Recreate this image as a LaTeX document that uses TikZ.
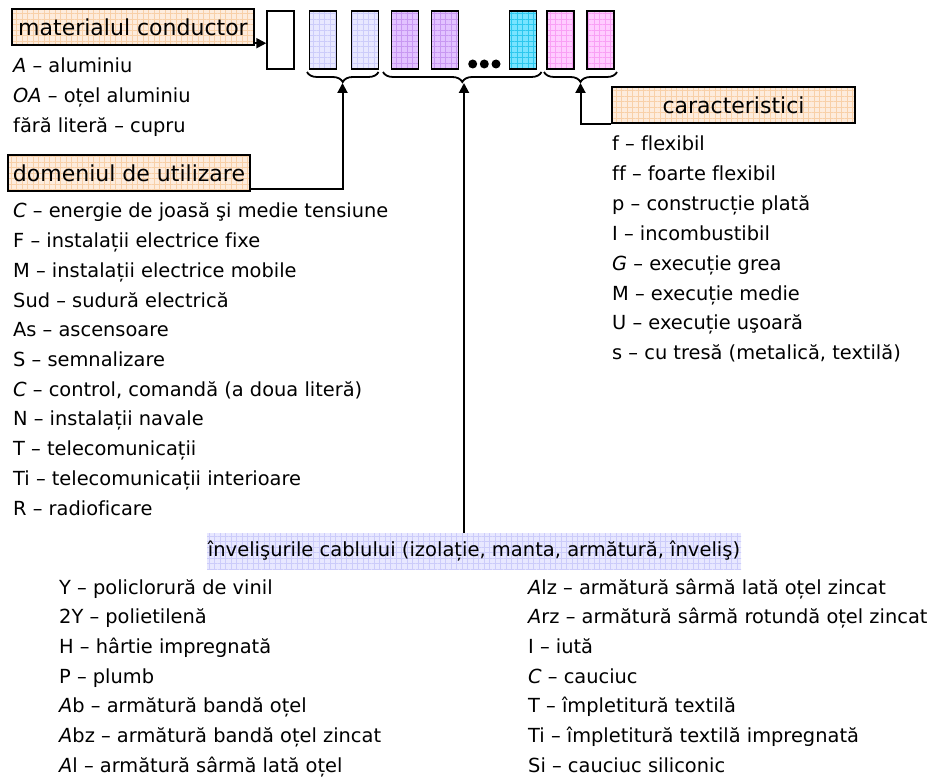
\documentclass[tikz,border=0pt]{standalone}
\usepackage{fontspec}
\setmainfont{DejaVu Sans}[Ligatures=NoCommon]
\usetikzlibrary{patterns.meta,decorations.pathreplacing,arrows.meta}
\definecolor{peach}{HTML}{FDECDD}
\definecolor{peachgrid}{HTML}{F8D0A8}
\definecolor{lav}{HTML}{E8E8FF}
\definecolor{lavgrid}{HTML}{CCCCFA}
\definecolor{purp}{HTML}{E2C2FF}
\definecolor{purpgrid}{HTML}{C898F2}
\definecolor{cyanf}{HTML}{78E4FF}
\definecolor{cyangrid}{HTML}{2CC8EE}
\definecolor{pinkf}{HTML}{FFCCFF}
\definecolor{pinkgrid}{HTML}{F9A0F5}
\tikzset{
  gridfill/.style 2 args={preaction={fill=#1},
    pattern={Hatch[angle=0,distance=5.5pt,line width=0.4pt]}, pattern color=#2},
  hdr/.style={draw, line width=1.8pt, inner sep=0pt, minimum height=36pt,
    font=\fontsize{22}{26}\selectfont, gridfill={peach}{peachgrid}},
  cell/.style={draw, line width=1.8pt, minimum width=27pt, minimum height=58pt, inner sep=0pt},
  item/.style={anchor=base west, inner sep=0pt, font=\fontsize{19.4}{23}\selectfont},
  conn/.style={line width=2pt, -{Triangle[length=10pt,width=10pt]}},
  bracestyle/.style={line width=1.8pt, decorate,
    decoration={brace, mirror, amplitude=10pt}},
  dot/.style={circle, fill=black, inner sep=0pt, minimum size=9pt}
}
\begin{document}
\begin{tikzpicture}[x=1pt,y=-1pt]
\useasboundingbox (0,0) rectangle (939,778);

% header boxes
\node[hdr, minimum width=242pt] (mat) at (133,27) {materialul conductor};
\node[hdr, minimum width=242pt] (dom) at (129,173) {domeniul de utilizare};
\node[hdr, minimum width=243pt] (car) at (733.5,105) {caracteristici};
\node[inner sep=0pt, minimum width=534pt, minimum height=36pt,
      font=\fontsize{19.5}{23}\selectfont, gridfill={lav}{lavgrid}]
      (inv) at (474,551) {învelişurile cablului (izolație, manta, armătură, înveliş)};

% code cells
\node[cell] (c1) at (280.7,40) {};
\node[cell, gridfill={lav}{lavgrid}] (c2) at (323,40) {};
\node[cell, gridfill={lav}{lavgrid}] (c3) at (365,40) {};
\node[cell, gridfill={purp}{purpgrid}] (c4) at (405,40) {};
\node[cell, gridfill={purp}{purpgrid}] (c5) at (445,40) {};
\node[cell, gridfill={cyanf}{cyangrid}] (c6) at (523,40) {};
\node[cell, gridfill={pinkf}{pinkgrid}] (c7) at (560.7,40) {};
\node[cell, gridfill={pinkf}{pinkgrid}] (c8) at (600.7,40) {};
\node[dot] (d1) at (472.7,64) {};
\node[dot] (d2) at (484.3,64) {};
\node[dot] (d3) at (496,64) {};

% braces
\draw[bracestyle] (307,72) -- (378.5,72);
\draw[bracestyle] (383,72) -- (541.5,72);
\draw[bracestyle] (544,72) -- (617,72);
\coordinate (b1) at (342.5,83);
\coordinate (b2) at (464,83);
\coordinate (b3) at (580.5,83);

% connectors
\draw[conn] ([yshift=2pt]mat.south east) -- ([yshift=2pt]mat.south east -| c1.west);
\draw[conn] ([yshift=3pt]dom.south east) -| (b1);
\draw[conn] (inv.north -| b2) -- (b2);
\draw[conn] (car.south west) -| (b3);

% material list
\node[item] (m1) at (13,73) {\textit{A} – aluminiu};
\node[item] (m2) at (13,103) {\textit{OA} – oțel aluminiu};
\node[item] (m3) at (13,133) {fără literă – cupru};

% domeniul list
\node[item] (u1) at (13,218) {\textit{C} – energie de joasă şi medie tensiune};
\node[item] (u2) at (13,247.7) {F – instalații electrice fixe};
\node[item] (u3) at (13,277.4) {M – instalații electrice mobile};
\node[item] (u4) at (13,307.1) {Sud – sudură electrică};
\node[item] (u5) at (13,336.8) {As – ascensoare};
\node[item] (u6) at (13,366.5) {S – semnalizare};
\node[item] (u7) at (13,396.2) {\textit{C} – control, comandă (a doua literă)};
\node[item] (u8) at (13,425.9) {N – instalații navale};
\node[item] (u9) at (13,455.6) {T – telecomunicații};
\node[item] (u10) at (13,485.3) {Ti – telecomunicații interioare};
\node[item] (u11) at (13,515) {R – radioficare};

% caracteristici list
\node[item] (k1) at (612,151) {f – flexibil};
\node[item] (k2) at (612,180.8) {ff – foarte flexibil};
\node[item] (k3) at (612,210.6) {p – construcție plată};
\node[item] (k4) at (612,240.4) {I – incombustibil};
\node[item] (k5) at (612,270.2) {\textit{G} – execuție grea};
\node[item] (k6) at (612,300) {M – execuție medie};
\node[item] (k7) at (612,329.8) {U – execuție uşoară};
\node[item] (k8) at (612,359.6) {s – cu tresă (metalică, textilă)};

% învelişuri lists
\node[item] (l1) at (59,594) {Y – policlorură de vinil};
\node[item] (l2) at (59,623.7) {2Y – polietilenă};
\node[item] (l3) at (59,653.4) {H – hârtie impregnată};
\node[item] (l4) at (59,683.1) {P – plumb};
\node[item] (l5) at (59,712.8) {\textit{A}b – armătură bandă oțel};
\node[item] (l6) at (59,742.5) {\textit{A}bz – armătură bandă oțel zincat};
\node[item] (l7) at (59,772.2) {\textit{A}l – armătură sârmă lată oțel};

\node[item] (r1) at (528,594) {\textit{A}lz – armătură sârmă lată oțel zincat};
\node[item] (r2) at (528,623.7) {\textit{A}rz – armătură sârmă rotundă oțel zincat};
\node[item] (r3) at (528,653.4) {I – iută};
\node[item] (r4) at (528,683.1) {\textit{C} – cauciuc};
\node[item] (r5) at (528,712.8) {T – împletitură textilă};
\node[item] (r6) at (528,742.5) {Ti – împletitură textilă impregnată};
\node[item] (r7) at (528,772.2) {Si – cauciuc siliconic};
\end{tikzpicture}
\end{document}
